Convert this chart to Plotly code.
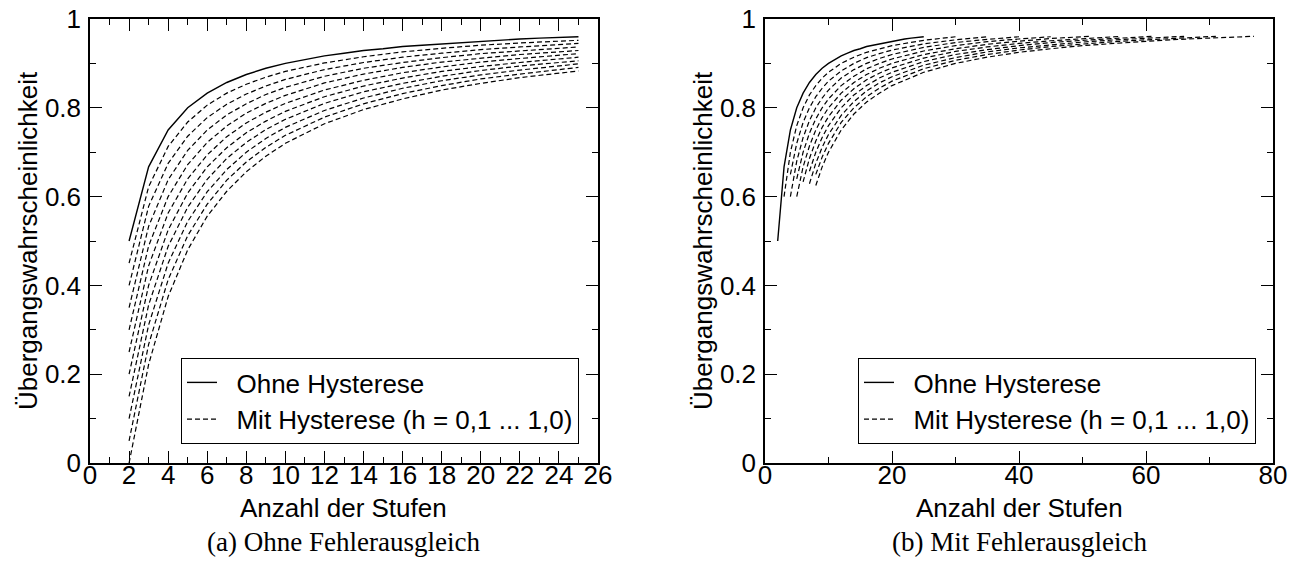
import plotly.graph_objects as go

# ---- Data -------------------------------------------------------------
# Hysteresis values h = 0,1 ... 1,0
H_WERTE = [0.1, 0.2, 0.3, 0.4, 0.5, 0.6, 0.7, 0.8, 0.9, 1.0]

# Without hysteresis (same curve in both panels)
STUFEN_OHNE = list(range(2, 26))
P_OHNE = [0.500, 0.667, 0.750, 0.800, 0.833, 0.857, 0.875, 0.889, 0.900, 0.909,
          0.917, 0.923, 0.929, 0.933, 0.938, 0.941, 0.944, 0.947, 0.950, 0.952,
          0.955, 0.957, 0.958, 0.960]

# (a) without error compensation, with hysteresis
STUFEN_A = [2, 3, 4, 5, 6, 7, 8, 9, 10, 12, 14, 16, 18, 20, 22, 25]
P_A_HYST = [
    [0.45, 0.622, 0.713, 0.768, 0.806, 0.833, 0.853, 0.869, 0.882, 0.901, 0.915, 0.926, 0.934, 0.941, 0.946, 0.952],
    [0.40, 0.578, 0.675, 0.736, 0.778, 0.808, 0.831, 0.849, 0.864, 0.886, 0.902, 0.914, 0.923, 0.931, 0.937, 0.945],
    [0.35, 0.533, 0.638, 0.704, 0.750, 0.784, 0.809, 0.830, 0.846, 0.871, 0.889, 0.902, 0.913, 0.922, 0.928, 0.937],
    [0.30, 0.489, 0.600, 0.672, 0.722, 0.759, 0.788, 0.810, 0.828, 0.856, 0.876, 0.891, 0.903, 0.912, 0.920, 0.929],
    [0.25, 0.444, 0.563, 0.640, 0.694, 0.735, 0.766, 0.790, 0.810, 0.840, 0.862, 0.879, 0.892, 0.903, 0.911, 0.922],
    [0.20, 0.400, 0.525, 0.608, 0.667, 0.710, 0.744, 0.770, 0.792, 0.825, 0.849, 0.867, 0.882, 0.893, 0.902, 0.914],
    [0.15, 0.356, 0.488, 0.576, 0.639, 0.686, 0.722, 0.751, 0.774, 0.810, 0.836, 0.855, 0.871, 0.884, 0.894, 0.906],
    [0.10, 0.311, 0.450, 0.544, 0.611, 0.661, 0.700, 0.731, 0.756, 0.794, 0.822, 0.844, 0.861, 0.874, 0.885, 0.899],
    [0.05, 0.267, 0.413, 0.512, 0.583, 0.637, 0.678, 0.711, 0.738, 0.779, 0.809, 0.832, 0.850, 0.865, 0.876, 0.891],
    [0.00, 0.222, 0.375, 0.480, 0.556, 0.612, 0.656, 0.691, 0.720, 0.764, 0.796, 0.820, 0.840, 0.855, 0.868, 0.883],
]

# (b) with error compensation, with hysteresis
STUFEN_B_HYST = [
    [3, 4, 5, 6, 7, 8, 9, 10, 12, 14, 16, 18, 20, 25, 30],
    [4, 5, 6, 7, 8, 9, 10, 12, 14, 16, 18, 20, 25, 30, 35],
    [4, 5, 6, 7, 8, 9, 10, 12, 14, 16, 18, 20, 25, 30, 35, 40],
    [5, 6, 7, 8, 9, 10, 12, 14, 16, 18, 20, 25, 30, 35, 40, 45],
    [5, 6, 7, 8, 9, 10, 12, 14, 16, 18, 20, 25, 30, 35, 40, 45, 51],
    [6, 7, 8, 9, 10, 12, 14, 16, 18, 20, 25, 30, 35, 40, 45, 50, 56],
    [7, 8, 9, 10, 12, 14, 16, 18, 20, 25, 30, 35, 40, 45, 50, 55, 61],
    [7, 8, 9, 10, 12, 14, 16, 18, 20, 25, 30, 35, 40, 45, 50, 55, 60, 66],
    [8, 9, 10, 12, 14, 16, 18, 20, 25, 30, 35, 40, 45, 50, 55, 60, 65, 71],
    [8, 9, 10, 12, 14, 16, 18, 20, 25, 30, 35, 40, 45, 50, 55, 60, 65, 70, 77],
]
P_B_HYST = [
    [0.600, 0.700, 0.760, 0.800, 0.829, 0.850, 0.867, 0.880, 0.900, 0.914, 0.925, 0.933, 0.940, 0.952, 0.960],
    [0.650, 0.720, 0.767, 0.800, 0.825, 0.844, 0.860, 0.883, 0.900, 0.913, 0.922, 0.930, 0.944, 0.953, 0.960],
    [0.600, 0.680, 0.733, 0.771, 0.800, 0.822, 0.840, 0.867, 0.886, 0.900, 0.911, 0.920, 0.936, 0.947, 0.954, 0.960],
    [0.640, 0.700, 0.743, 0.775, 0.800, 0.820, 0.850, 0.871, 0.888, 0.900, 0.910, 0.928, 0.940, 0.949, 0.955, 0.960],
    [0.600, 0.667, 0.714, 0.750, 0.778, 0.800, 0.833, 0.857, 0.875, 0.889, 0.900, 0.920, 0.933, 0.943, 0.950, 0.956, 0.961],
    [0.633, 0.686, 0.725, 0.756, 0.780, 0.817, 0.843, 0.863, 0.878, 0.890, 0.912, 0.927, 0.937, 0.945, 0.951, 0.956, 0.961],
    [0.657, 0.700, 0.733, 0.760, 0.800, 0.829, 0.850, 0.867, 0.880, 0.904, 0.920, 0.931, 0.940, 0.947, 0.952, 0.956, 0.961],
    [0.629, 0.675, 0.711, 0.740, 0.783, 0.814, 0.838, 0.856, 0.870, 0.896, 0.913, 0.926, 0.935, 0.942, 0.948, 0.953, 0.957, 0.961],
    [0.650, 0.689, 0.720, 0.767, 0.800, 0.825, 0.844, 0.860, 0.888, 0.907, 0.920, 0.930, 0.938, 0.944, 0.949, 0.953, 0.957, 0.961],
    [0.625, 0.667, 0.700, 0.750, 0.786, 0.813, 0.833, 0.850, 0.880, 0.900, 0.914, 0.925, 0.933, 0.940, 0.945, 0.950, 0.954, 0.957, 0.961],
]

# Axis ticks
Y_TICKS = [0, 0.2, 0.4, 0.6, 0.8, 1.0]
Y_TICKTEXT = ["0", "0.2", "0.4", "0.6", "0.8", "1"]

LABEL_OHNE = "Ohne Hysterese"
LABEL_MIT = "Mit Hysterese (h = 0,1 ... 1,0)"

# ---- Styling ----------------------------------------------------------
SANS = "Liberation Sans, Arial, Helvetica, sans-serif"
SERIF = "Liberation Serif, Times New Roman, serif"
FS = 26
W, H = 1304, 562

DASH = "5px,3px"

fig = go.Figure()


def add_panel(xaxis, yaxis, legend, hyst_x, hyst_y):
    fig.add_trace(go.Scatter(
        x=STUFEN_OHNE, y=P_OHNE, mode="lines", name="  " + LABEL_OHNE,
        line=dict(color="black", width=1.4), xaxis=xaxis, yaxis=yaxis,
        legend=legend, showlegend=True, hoverinfo="skip"))
    for i, h in enumerate(H_WERTE):
        xs = hyst_x[i] if isinstance(hyst_x[0], list) else hyst_x
        fig.add_trace(go.Scatter(
            x=xs, y=hyst_y[i], mode="lines", name="  " + LABEL_MIT,
            legendgroup=legend + "_mit", legend=legend, showlegend=(i == 0),
            line=dict(color="black", width=1.2, dash=DASH),
            xaxis=xaxis, yaxis=yaxis, hoverinfo="skip"))


add_panel("x", "y", "legend", STUFEN_A, P_A_HYST)
add_panel("x2", "y2", "legend2", STUFEN_B_HYST, P_B_HYST)

# Plot boxes in pixels
BOX_A = (90, 598)
BOX_B = (765, 1273)
TOP, BOTTOM = 19, 463


def px_x(v):
    return v / W


def px_y(v):
    return 1 - v / H


common_axis = dict(
    ticks="inside", ticklen=12, tickwidth=1, tickcolor="black",
    showline=True, linecolor="black", linewidth=1.5, mirror="ticks",
    showgrid=False, zeroline=False, automargin=False,
    tickfont=dict(family=SANS, size=FS, color="black"),
)
x_extra = dict(ticklabelstandoff=-12)
y_extra = dict(ticklabelstandoff=2)

fig.update_layout(
    width=W, height=H,
    margin=dict(l=0, r=0, t=0, b=0, autoexpand=False),
    paper_bgcolor="white", plot_bgcolor="white",
    font=dict(family=SANS, size=FS, color="black"),
    xaxis=dict(domain=[px_x(BOX_A[0]), px_x(BOX_A[1])], range=[0, 26],
               tick0=0, dtick=2, anchor="y",
               minor=dict(dtick=1, ticklen=6, ticks="inside", tickcolor="black", showgrid=False),
               **common_axis, **x_extra),
    yaxis=dict(domain=[px_y(BOTTOM), px_y(TOP)], range=[0, 1], anchor="x",
               tickvals=Y_TICKS, ticktext=Y_TICKTEXT,
               minor=dict(dtick=0.1, ticklen=6, ticks="inside", tickcolor="black", showgrid=False),
               **common_axis, **y_extra),
    xaxis2=dict(domain=[px_x(BOX_B[0]), px_x(BOX_B[1])], range=[0, 80],
                tick0=0, dtick=20, anchor="y2",
                minor=dict(dtick=10, ticklen=6, ticks="inside", tickcolor="black", showgrid=False),
                **common_axis, **x_extra),
    yaxis2=dict(domain=[px_y(BOTTOM), px_y(TOP)], range=[0, 1], anchor="x2",
                tickvals=Y_TICKS, ticktext=Y_TICKTEXT,
                minor=dict(dtick=0.1, ticklen=6, ticks="inside", tickcolor="black", showgrid=False),
                **common_axis, **y_extra),
    legend=dict(x=px_x(579), y=px_y(444), xanchor="right", yanchor="bottom",
                bgcolor="white", bordercolor="black", borderwidth=1,
                font=dict(family=SANS, size=FS, color="black"), tracegroupgap=0),
    legend2=dict(x=px_x(1256), y=px_y(444), xanchor="right", yanchor="bottom",
                 bgcolor="white", bordercolor="black", borderwidth=1,
                 font=dict(family=SANS, size=FS, color="black"), tracegroupgap=0),
    showlegend=True,
)

annotations = []
for (x0, x1), yt_x, caption in [
        (BOX_A, 28, "(a) Ohne Fehlerausgleich"),
        (BOX_B, 703, "(b) Mit Fehlerausgleich")]:
    cx = (x0 + x1) / 2
    annotations.append(dict(text="Übergangswahrscheinlichkeit", x=px_x(yt_x), y=px_y((TOP + BOTTOM) / 2),
                            xref="paper", yref="paper", textangle=-90, showarrow=False,
                            xanchor="center", yanchor="middle",
                            font=dict(family=SANS, size=FS, color="black")))
    annotations.append(dict(text="Anzahl der Stufen", x=px_x(cx), y=px_y(508),
                            xref="paper", yref="paper", showarrow=False,
                            xanchor="center", yanchor="middle",
                            font=dict(family=SANS, size=FS, color="black")))
    annotations.append(dict(text=caption, x=px_x(cx), y=px_y(542),
                            xref="paper", yref="paper", showarrow=False,
                            xanchor="center", yanchor="middle",
                            font=dict(family=SERIF, size=27, color="black")))
fig.update_layout(annotations=annotations)

fig.write_html("out.html")
